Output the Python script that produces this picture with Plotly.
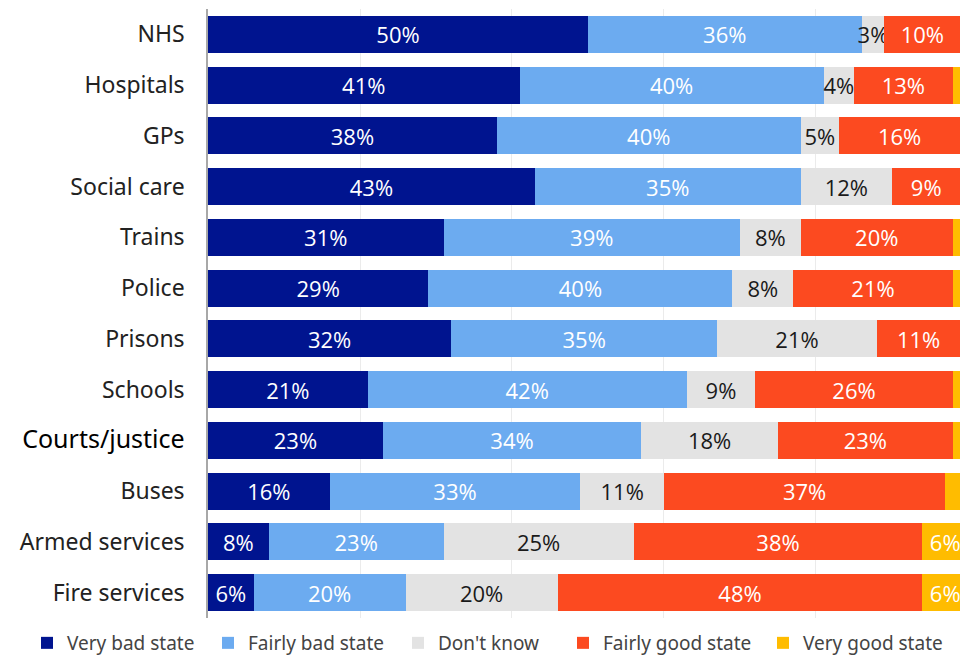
import plotly.graph_objects as go

# Public services: perceived state (%)
categories = ["NHS", "Hospitals", "GPs", "Social care", "Trains", "Police", "Prisons",
              "Schools", "Courts/justice", "Buses", "Armed services", "Fire services"]

very_bad = [50, 41, 38, 43, 31, 29, 32, 21, 23, 16, 8, 6]
fairly_bad = [36, 40, 40, 35, 39, 40, 35, 42, 34, 33, 23, 20]
dont_know = [3, 4, 5, 12, 8, 8, 21, 9, 18, 11, 25, 20]
fairly_good = [10, 13, 16, 9, 20, 21, 11, 26, 23, 37, 38, 48]
very_good = [1, 2, 1, 1, 2, 2, 1, 2, 2, 3, 6, 6]

# name, values, fill, label colour, smallest value that gets a label, legend x (px)
series = [
    ("Very bad state", very_bad, "#00148F", "white", 0, 27),
    ("Fairly bad state", fairly_bad, "#6CABF0", "white", 0, 208),
    ("Don't know", dont_know, "#E3E3E3", "#1a1a1a", 0, 398),
    ("Fairly good state", fairly_good, "#FC4A20", "white", 0, 563),
    ("Very good state", very_good, "#FFBC00", "white", 5, 763),
]

LABEL_FONT = "Open Sans, Noto Sans, sans-serif"
CAT_FONT = "Noto Sans, DejaVu Sans, sans-serif"
W, H = 960, 657

fig = go.Figure()
legends = {}
for i, (name, vals, color, txtcolor, min_label, lx) in enumerate(series):
    labels = [f"{v}%" if v >= min_label else "" for v in vals]
    key = "legend" if i == 0 else f"legend{i + 1}"
    fig.add_trace(go.Bar(
        name=name,
        y=categories,
        x=vals,
        orientation="h",
        marker=dict(color=color, line=dict(width=0)),
        text=labels,
        textposition="inside",
        insidetextanchor="middle",
        textangle=0,
        textfont=dict(family=LABEL_FONT, size=22, color=txtcolor),
        hoverinfo="skip",
        legend=key,
    ))
    legends[key] = dict(
        orientation="h",
        xref="container",
        yref="container",
        x=lx / W,
        y=1 - 643 / H,
        xanchor="left",
        yanchor="middle",
        font=dict(family=CAT_FONT, size=19, color="#444444"),
        itemclick=False,
        itemdoubleclick=False,
        bgcolor="rgba(0,0,0,0)",
    )

# one category label set in a larger, darker face
ticktext = [
    f'<span style="font-size:25px;color:#000000">{c}</span>' if c == "Courts/justice" else c
    for c in categories
]

fig.update_layout(
    width=W,
    height=H,
    barmode="stack",
    bargap=0.27,
    plot_bgcolor="white",
    paper_bgcolor="white",
    margin=dict(l=208, r=0, t=9, b=39),
    uniformtext=dict(mode="show", minsize=22),
    xaxis=dict(
        range=[0, 98.95],
        dtick=20,
        showgrid=True,
        gridcolor="#EBEBEB",
        gridwidth=1,
        showticklabels=False,
        zeroline=False,
        showline=False,
        fixedrange=True,
    ),
    yaxis=dict(
        categoryorder="array",
        categoryarray=categories,
        autorange="reversed",
        tickmode="array",
        tickvals=categories,
        ticktext=ticktext,
        tickfont=dict(family=CAT_FONT, size=23, color="#222222"),
        ticklabelstandoff=17,
        showline=True,
        linecolor="#A8A8A8",
        linewidth=1.5,
        showgrid=False,
        zeroline=False,
    ),
    showlegend=True,
    **legends,
)

fig.write_html("out.html")
